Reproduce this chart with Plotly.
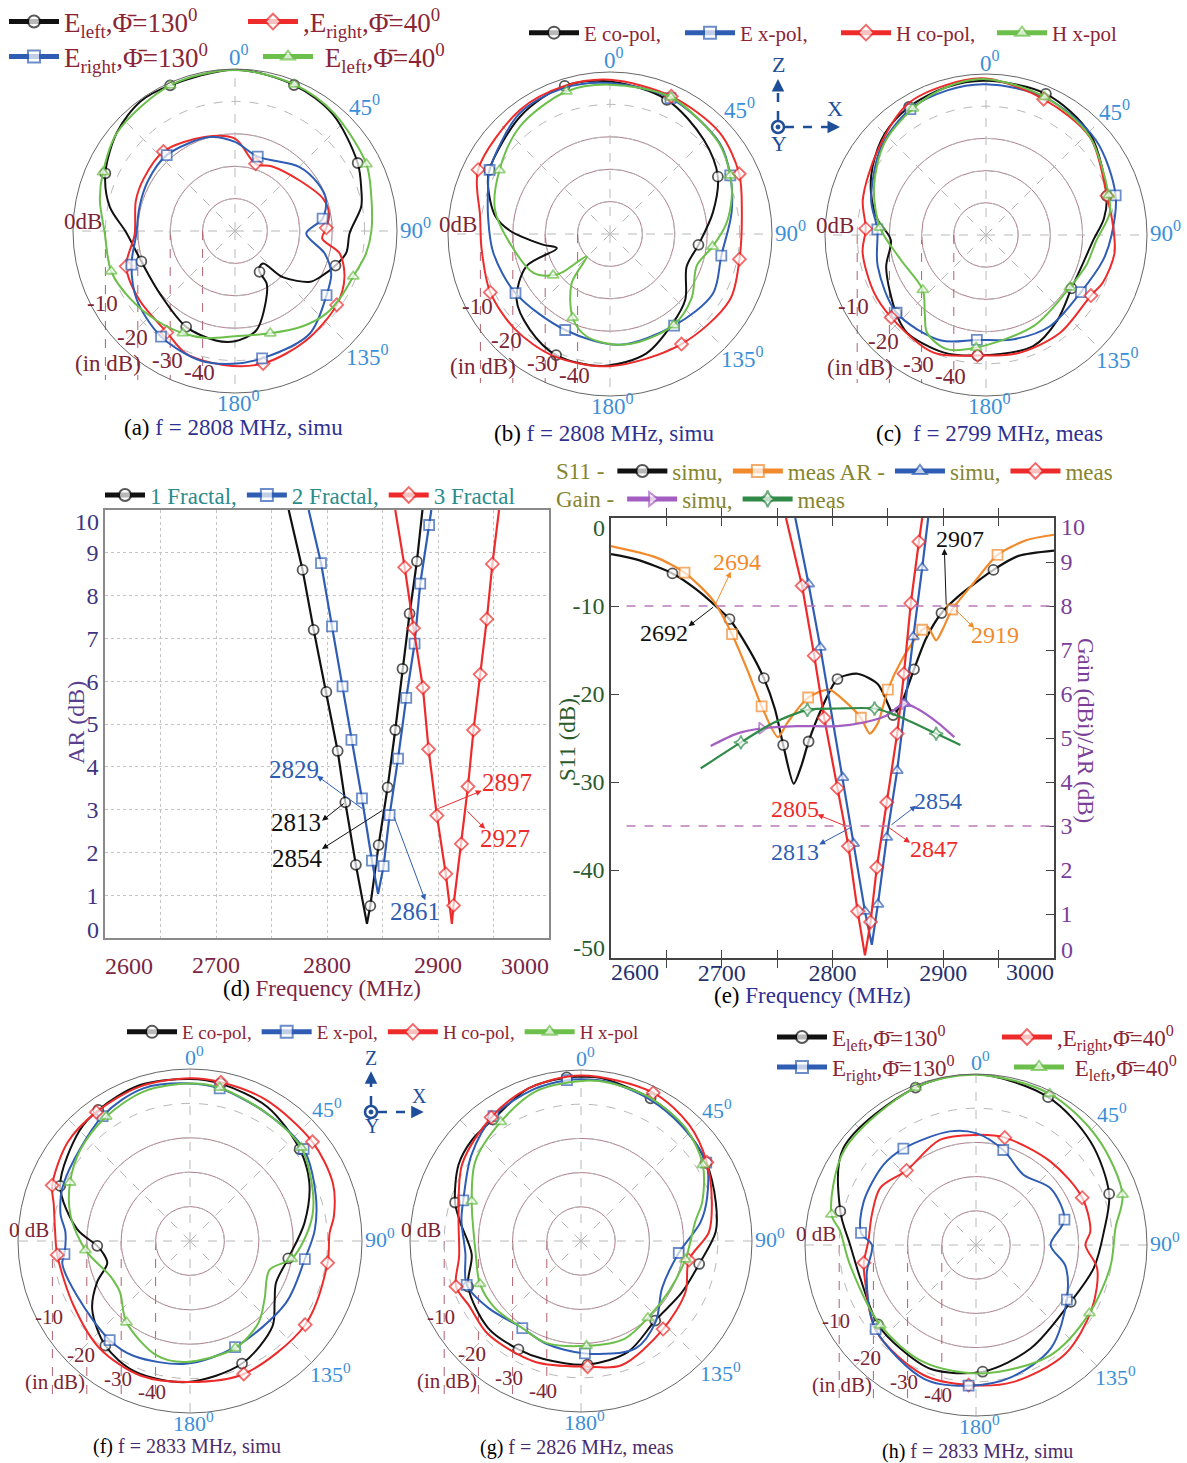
import plotly.graph_objects as go

W, H = 1187, 1463
FONT = "Liberation Serif"

C_BLACK = "#111111"
C_BLUE = "#2f5db4"
C_RED = "#ee2b2b"
C_GREEN = "#6cbf4a"
C_ORANGE = "#f28a2c"
C_PURPLE = "#a45ec2"
C_DGREEN = "#2f8a47"
C_MAROON = "#8b2535"
C_ANG = "#3b8fd8"
C_NAVY = "#2e3192"

# ======================= (a) f = 2808 MHz, simu =======================
a_black_th = [0, 22, 40, 61, 72, 79, 91, 101, 109, 118, 124, 134, 139, 146, 149, 149, 156, 168, 180, 190, 207, 230, 252, 269, 281, 294, 310, 324, 336, 360]
a_black_r = [-0.2, -1.4, -3, -6.7, -9, -10.3, -14.6, -15, -17.2, -20, -22, -29.5, -36.7, -36.5, -35.3, -31, -26.5, -18.6, -16, -15.7, -16.8, -19.8, -19.6, -16.5, -10.6, -6.2, -2.5, -0.5, -0.8, -0.2]
a_black_mk = [1, 3, 8, 14, 20, 22, 25, 28]
a_green_th = [0, 22, 40, 63, 75, 90, 100, 111, 122, 132, 145, 161, 180, 195, 207, 221, 237, 252, 269, 283, 294, 310, 336, 360]
a_green_r = [-0.3, -1.2, -2.5, -4.5, -6.5, -7.9, -9, -10.9, -11.5, -12, -14, -16.6, -17.5, -15.8, -14.6, -13.3, -11.5, -9.8, -9.8, -7.2, -5.4, -2.6, -0.8, -0.3]
a_green_mk = [1, 3, 7, 11, 14, 17, 20, 22]
a_blue_th = [0, 17, 45, 60, 71, 82, 92, 104, 114, 125, 144, 168, 181, 195, 215, 235, 252, 268, 284, 300, 318, 345, 360]
a_blue_r = [-22.5, -26, -22, -20.5, -20.3, -22.7, -28, -21.5, -17.5, -15.5, -10.8, -9.8, -9, -8.6, -10.2, -13, -16.4, -19.5, -19.6, -19, -18.5, -20, -22.5]
a_blue_mk = [1, 5, 9, 11, 14, 16, 20]
a_red_th = [0, 17, 30, 52, 70, 80, 88, 95, 102, 113, 126, 147, 168, 185, 202, 214, 234, 252, 268, 287, 300, 318, 342, 360]
a_red_r = [-21.5, -28.3, -27, -24.7, -21, -20.5, -21.8, -23, -17, -13.3, -11.2, -9.7, -8.2, -8.5, -9.3, -12.3, -13.6, -14.7, -19, -18, -17.5, -17, -19.5, -21.5]
a_red_mk = [1, 6, 10, 12, 15, 17, 21]

# ======================= (b) f = 2808 MHz, simu =======================
b_black_th = [0, 23, 45, 62, 78, 97, 113, 131, 145, 163, 183, 204, 220, 235, 249, 255, 261, 272, 279, 291, 298, 323, 343, 360]
b_black_r = [-2.9, -5, -9, -12.3, -17.5, -22.5, -24.3, -19.2, -16.3, -11.5, -9.2, -9.1, -11.5, -14.8, -22.4, -33, -29, -19, -14.1, -9.7, -7.8, -4.3, -2.2, -2.9]
b_black_mk = [1, 3, 5, 11, 20, 22]
b_blue_th = [0, 24, 50, 64, 80, 101, 120, 145, 175, 205, 238, 261, 278, 291, 298, 323, 342, 360]
b_blue_r = [-3.4, -4.1, -6, -8.7, -11.9, -15, -13.3, -15.5, -15.7, -17.3, -15.6, -13.5, -12, -9.7, -7.9, -3.5, -2.7, -3.4]
b_blue_mk = [1, 3, 5, 7, 9, 10, 14]
b_red_th = [0, 24, 47, 65, 81, 101, 119, 147, 180, 205, 225, 244, 263, 278, 296, 324, 343, 360]
b_red_r = [-2.4, -3.5, -3.9, -6, -8.8, -9.3, -7.8, -9.5, -9.2, -8.5, -8.5, -8.9, -10.1, -9.5, -4.7, -2.7, -2.2, -2.4]
b_red_mk = [1, 3, 5, 7, 11, 14]
b_green_th = [0, 24, 50, 64, 73, 85, 97, 110, 128, 145, 165, 177, 193, 204, 218, 226, 231, 234, 243, 263, 282, 300, 320, 343, 360]
b_green_r = [-3.9, -3.8, -6.2, -8.7, -10.7, -14, -18.1, -21.5, -18, -15.7, -15.5, -15.8, -17.6, -21.7, -30.8, -40, -31.6, -28.3, -23.5, -19.4, -13.7, -10.6, -6.7, -4, -3.9]
b_green_mk = [1, 3, 6, 9, 13, 17, 21, 23]

# ======================= (c) f = 2799 MHz, meas =======================
c_black_th = [0, 23, 46, 72, 82, 93, 106, 122, 140, 157, 184, 200, 219, 229, 252, 267, 278, 290, 301, 315, 329, 345, 360]
c_black_r = [-2.1, -2.4, -5, -10.6, -13, -16.7, -18.6, -18.7, -15.5, -12.5, -12.5, -11.2, -11, -13, -17.4, -20.4, -16, -12, -8.9, -5.5, -3.6, -2.5, -2.1]
c_black_mk = [1, 3, 7, 10, 13, 20]
c_blue_th = [0, 23, 49, 73, 90, 102, 121, 145, 165, 185, 203, 229, 254, 273, 287, 310, 329, 345, 360]
c_blue_r = [-3.2, -3.5, -4.9, -7.9, -11, -12.8, -15.6, -15.4, -16.5, -17.3, -14.4, -13.2, -15, -16.2, -12.7, -7.5, -4.4, -3.5, -3.2]
c_blue_mk = [3, 6, 9, 11, 13, 16]
c_red_th = [0, 23, 47, 72, 85, 98, 112, 120, 143, 165, 184, 204, 229, 243, 262, 273, 286, 308, 329, 345, 360]
c_red_r = [-1.4, -4.2, -5.7, -10.5, -10.5, -9.7, -10.8, -12.4, -11.9, -12, -12.5, -10, -11, -10.9, -11.3, -12.6, -10.2, -7.3, -2.6, -1.8, -1.4]
c_red_mk = [1, 3, 7, 10, 12, 15]
c_green_th = [0, 23, 46, 72, 80, 93, 107, 122, 152, 185, 199, 211, 218, 229, 254, 274, 293, 312, 330, 345, 360]
c_green_r = [-1.6, -3.4, -5.5, -9.9, -11, -15.7, -17.5, -19.3, -18.1, -14.9, -12.5, -14.5, -19.1, -24, -22.4, -17, -12.2, -7.5, -4.6, -2.5, -1.6]
c_green_mk = [1, 3, 7, 9, 13, 15, 18]

# ======================= (f) f = 2833 MHz, simu =======================
f_black_th = [0, 11, 30, 50, 64, 81, 100, 116, 126, 136, 157, 181, 203, 219, 235, 246, 255, 262, 267, 276, 293, 315, 325, 342, 360]
f_black_r = [-2.9, -3.4, -5, -8.4, -11.4, -16.3, -21, -22.2, -19.6, -15.5, -11.3, -9, -8.8, -10.9, -15.3, -20.4, -25.1, -24.5, -23, -17, -9, -4.6, -3.5, -2.4, -2.9]
f_black_mk = [1, 3, 6, 10, 13, 18, 20, 22]
f_blue_th = [0, 11, 31, 51, 70, 85, 99, 123, 157, 182, 206, 219, 244, 260, 264, 274, 282, 295, 325, 343, 360]
f_blue_r = [-4.2, -4.8, -6.7, -7.5, -11.1, -13.6, -16.2, -16.8, -16.5, -14.3, -12.8, -12.9, -13.5, -12.3, -13.3, -13.7, -11.5, -9.6, -5.7, -3.6, -4.2]
f_blue_mk = [1, 3, 6, 8, 11, 14, 18]
f_red_th = [0, 11, 28, 51, 68, 80, 87, 99, 126, 158, 180, 200, 220, 241, 264, 275, 285, 292, 309, 324, 342, 360]
f_red_r = [-2.7, -3, -3.4, -4.2, -5.2, -7.5, -9.4, -9.5, -8.6, -8.3, -9, -8.3, -9.2, -11.3, -11.2, -10.6, -9, -6.8, -4.3, -3.7, -2.8, -2.7]
f_red_mk = [1, 3, 7, 8, 9, 14, 17, 19]
f_green_th = [0, 11, 31, 50, 67, 78, 90, 100, 110, 128, 140, 157, 182, 196, 218, 234, 246, 265, 282, 296, 310, 326, 343, 360]
f_green_r = [-4.2, -4.6, -6.7, -7.8, -11.3, -13.6, -17, -20, -25.4, -22.5, -19, -16.2, -14.8, -15.3, -20, -24.8, -24.7, -19.5, -14.5, -11.2, -8.5, -6.4, -4.5, -4.2]
f_green_mk = [1, 3, 7, 11, 14, 17, 19, 21]

# ======================= (g) f = 2826 MHz, meas =======================
g_black_th = [0, 7, 26, 41, 58, 74, 86, 101, 117, 137, 157, 177, 198, 210, 227, 248, 263, 279, 287, 302, 313, 324, 341, 355, 360]
g_black_r = [-2, -2, -3.6, -5, -6.8, -9, -10.5, -14.8, -16.9, -18.2, -14.8, -13.8, -13.8, -13.4, -12.8, -14.4, -17.8, -14.2, -11.5, -7.8, -6.5, -6.1, -2.8, -2, -2]
g_black_mk = [2, 4, 7, 9, 11, 13, 15, 18, 21, 23]
g_blue_th = [0, 10, 26, 41, 58, 71, 81, 97, 120, 137, 153, 178, 199, 214, 234, 249, 264, 280, 289, 308, 325, 343, 355, 360]
g_blue_r = [-2.7, -2.8, -4, -5.3, -6.8, -11, -14.6, -21.2, -22.6, -17.9, -14.8, -17.1, -18.3, -19.3, -16.6, -14.2, -16, -14.5, -13.6, -9.3, -5.4, -3.5, -2.8, -2.7]
g_blue_mk = [4, 7, 11, 13, 15, 18, 20, 22]
g_red_th = [0, 26, 43, 58, 73, 86, 100, 116, 137, 162, 177, 201, 225, 240, 250, 263, 282, 303, 324, 341, 360]
g_red_r = [-1.6, -1.8, -3.6, -6.6, -10, -12.5, -18, -16, -14.8, -11.8, -13.2, -12.2, -11.5, -12.2, -11.1, -14.1, -13.4, -8.6, -5.3, -2.8, -1.6]
g_red_mk = [1, 3, 6, 8, 10, 14, 18]
g_green_th = [0, 10, 26, 43, 58, 72, 80, 100, 120, 139, 156, 177, 199, 214, 232, 247, 264, 290, 307, 326, 343, 360]
g_green_r = [-3.2, -3, -3.5, -5, -8, -12.7, -16, -19, -20.4, -20.2, -18.7, -19.3, -18.5, -19.3, -18.1, -17.9, -19, -16, -11.3, -8, -4.3, -3.2]
g_green_mk = [4, 7, 9, 11, 15, 17, 19]

# ======================= (h) f = 2833 MHz, simu =======================
h_black_th = [0, 26, 48, 69, 84, 101, 121, 152, 177, 200, 216, 231, 254, 270, 284, 306, 339, 360]
h_black_r = [0, -1.9, -4.9, -8.3, -12.4, -14.9, -17.7, -15.8, -12.9, -11.4, -12.5, -13.1, -14.8, -13.2, -9.1, -2, -0.7, 0]
h_black_mk = [1, 3, 6, 8, 11, 14, 16]
h_green_th = [0, 26, 49, 71, 83, 99, 121, 146, 177, 204, 230, 261, 276, 282, 306, 339, 360]
h_green_r = [-0.2, -0.8, -2.7, -4.7, -8.9, -10.2, -11.3, -11.1, -12.4, -12.5, -13.5, -12.7, -10, -6.8, -2.5, -0.7, -0.2]
h_green_mk = [1, 3, 6, 10, 13, 15]
h_blue_th = [0, 16, 34, 53, 74, 90, 103, 121, 144, 165, 183, 201, 230, 255, 270, 276, 291, 311, 323, 347, 360]
h_blue_r = [-17.3, -21.1, -25.2, -22.6, -23.1, -28.2, -23.2, -19, -12.7, -10, -8.8, -8, -11.7, -16.9, -19.6, -16.2, -14.8, -14.2, -14.7, -15.9, -17.3]
h_blue_mk = [1, 4, 7, 10, 12, 15, 18]
h_red_th = [0, 15, 42, 66, 83, 90, 101, 119, 141, 165, 183, 202, 229, 252, 261, 272, 286, 301, 317, 341, 360]
h_red_r = [-17.8, -17.5, -17.3, -16, -16.3, -18, -13.9, -11.3, -8.8, -8.5, -9, -9, -11.4, -15.9, -16.8, -18.5, -18.3, -17.4, -20.2, -17.5, -17.8]
h_red_mk = [1, 3, 10, 14, 18]

# ======================= (d) AR vs frequency =======================
d_f1 = [2765.5, 2778, 2788, 2799.4, 2809.6, 2816.5, 2826, 2836, 2839, 2846.5, 2854.6, 2861.5, 2868, 2874.4, 2881, 2886]
d_ar1 = [10, 8.6, 7.2, 5.75, 4.37, 3.17, 1.71, 0.33, 0.75, 2.17, 3.52, 4.86, 6.29, 7.58, 8.8, 10]
d_f2 = [2783.5, 2794.6, 2804.5, 2814, 2822, 2831.5, 2840.5, 2846, 2851, 2856.4, 2864, 2871.4, 2878.9, 2884, 2892, 2894]
d_ar2 = [10, 8.76, 7.28, 5.88, 4.63, 3.26, 1.81, 1.03, 1.68, 2.87, 4.19, 5.61, 6.88, 8.28, 9.65, 10]
d_f3 = [2861.5, 2870, 2878, 2886.4, 2891.5, 2899, 2907, 2912.5, 2914, 2921, 2927, 2932, 2938, 2944, 2949, 2955]
d_ar3 = [10, 8.66, 7.24, 5.85, 4.41, 2.86, 1.5, 0.33, 0.76, 2.2, 3.54, 4.86, 6.16, 7.45, 8.74, 10]
d_mk = [1, 2, 3, 4, 5, 6, 8, 9, 10, 11, 12, 13, 14]
d_freq_ticks = [2600, 2650, 2700, 2750, 2800, 2850, 2900, 2950, 3000]
d_freq_labels = ["", "", "2700", "", "2800", "", "2900", "", ""]
d_ar_ticks = [0, 1, 2, 3, 4, 5, 6, 7, 8, 9, 10]
d_ar_labels = ["", "1", "2", "3", "4", "5", "6", "7", "8", "9", ""]
d_labels = ["2829", "2813", "2854", "2861", "2897", "2927"]
d_label_col = ["blue", "black", "black", "blue", "red", "red"]
d_tail = [(2833, 3.0), (2816.5, 3.17), (2851, 3.0), (2860, 2.86), (2899, 3.01), (2925, 3.0)]
d_head = [(2791, 3.79), (2795.5, 2.74), (2795.5, 2.08), (2888.5, 0.88), (2939.4, 3.44), (2942.4, 2.55)]
d_text = [(2770, 3.94), (2772.4, 2.69), (2773, 1.86), (2879.5, 0.62), (2962, 3.63), (2960.4, 2.33)]

# ======================= (e) S11 / AR / Gain =======================
e_s11_sim_f = [2600, 2622.7, 2655.5, 2677, 2695.5, 2707, 2724.5, 2738, 2748, 2755.5, 2765, 2772, 2778.4, 2790, 2804.5, 2822.7, 2841, 2852, 2854.7, 2862.7, 2873.6, 2884.5, 2898.4, 2913.6, 2945.3, 2968, 3000]
e_s11_sim = [-4.1, -4.7, -6.3, -8.1, -10.1, -11.5, -14.9, -18.2, -21.7, -25.8, -30.2, -28.1, -25.4, -21.7, -18.3, -17.7, -18.9, -21.7, -22.4, -20.9, -17.2, -13.7, -10.8, -8.9, -5.9, -4.3, -3.7]
e_s11_sim_mk = [2, 5, 7, 9, 12, 14, 18, 20, 22, 24]
e_s11_meas_f = [2600, 2641, 2666.4, 2691.8, 2709.3, 2724.5, 2736, 2750.7, 2759, 2778, 2797, 2811.8, 2825.6, 2833.6, 2841, 2850, 2862.7, 2881, 2886, 2893.6, 2900, 2908, 2928, 2949, 2975.5, 3000]
e_s11_meas = [-3.2, -4.5, -6.2, -9.3, -13.2, -17.7, -21.4, -24.9, -23.3, -20.4, -19.5, -20.9, -22.7, -24.5, -23.3, -19.5, -16.1, -12.7, -12.4, -13.9, -12.5, -10.4, -7.3, -4.2, -2.5, -1.9]
e_s11_meas_mk = [2, 4, 6, 9, 12, 15, 17, 21, 23]
e_ar_sim_f = [2766.4, 2778.4, 2789, 2799, 2809.3, 2819, 2829.3, 2835.5, 2841, 2849, 2858.4, 2865.6, 2873, 2881, 2886.4]
e_ar_sim = [10, 8.5, 7.06, 5.6, 4.1, 2.6, 1.06, 0.3, 1.22, 2.74, 4.26, 5.78, 7.3, 8.87, 10]
e_ar_sim_mk = [1, 2, 4, 5, 6, 8, 9, 10, 11, 12, 13]
e_ar_meas_f = [2758, 2772.5, 2783.5, 2792.5, 2804.5, 2814.4, 2822.7, 2829.3, 2834.4, 2840, 2849, 2858.4, 2864.5, 2870.7, 2878, 2881]
e_ar_meas = [10, 8.46, 6.87, 5.46, 3.86, 2.54, 1.06, 0.06, 0.82, 2.06, 3.54, 5.1, 6.46, 8.06, 9.46, 10]
e_ar_meas_mk = [1, 2, 3, 4, 5, 6, 8, 9, 10, 11, 12, 13, 14]
e_gain_sim_f = [2690, 2713.6, 2736, 2768, 2804.5, 2826, 2848, 2864.5, 2877, 2895.5, 2910]
e_gain_sim = [4.82, 5.1, 5.22, 5.27, 5.27, 5.34, 5.5, 5.78, 5.66, 5.34, 5.02]
e_gain_sim_mk = [2, 7]
e_gain_meas_f = [2681, 2717.3, 2746.4, 2777.3, 2804.5, 2838, 2859, 2893.6, 2915.5]
e_gain_meas = [4.31, 4.9, 5.34, 5.64, 5.67, 5.67, 5.5, 5.1, 4.84]
e_gain_meas_mk = [1, 3, 5, 7]
e_s11_limit = -10
e_ar_limit = 3
e_limit_start = 2614
e_freq_ticks = [2600, 2650, 2700, 2750, 2800, 2850, 2900, 2950, 3000]
e_freq_labels = ["", "", "2700", "", "2800", "", "2900", "", ""]
e_s11_ticks = [-50, -40, -30, -20, -10, 0]
e_s11_labels = ["", "-40", "-30", "-20", "-10", ""]
e_right_ticks = [0, 1, 2, 3, 4, 5, 6, 7, 8, 9, 10]
e_right_labels = ["", "1", "2", "3", "4", "5", "6", "7", "8", "9", ""]
e_labels = ["2694", "2692", "2907", "2919", "2805", "2813", "2854", "2847"]
e_label_col = ["orange", "black", "black", "orange", "red", "blue", "blue", "red"]
e_tail = [(2693.6, -10), (2693.6, -10), (2902.7, -10), (2910, -10.3), (2811.8, -35), (2819, -35), (2851.8, -35), (2849, -35)]
e_head = [(2708.2, -6.1), (2670, -12.3), (2901, -3.5), (2928, -12.5), (2786.4, -33.7), (2788, -37.1), (2875.5, -32.7), (2870, -36.9)]
e_text = [(2713.6, -5.0), (2647.5, -13.1), (2915.5, -2.4), (2946.4, -13.3), (2766.4, -33.1), (2766.4, -37.9), (2895.5, -32.2), (2891.8, -37.6)]

# ----------------------------------------------------------------------
COL = {"black": C_BLACK, "blue": C_BLUE, "red": C_RED, "green": C_GREEN, "orange": C_ORANGE}


def px(x):
    return x / W


def py(y):
    return 1 - y / H


def ptext(x, y, text, size, color, angle=0, xanchor="center"):
    return dict(text=text, x=px(x), y=py(y), xref="paper", yref="paper", xanchor=xanchor,
                yanchor="middle", showarrow=False, textangle=angle,
                font=dict(family=FONT, size=size, color=color))


fig = go.Figure()


def sizes(n, mk, s=10):
    return [s if i in mk else 0 for i in range(n)]


def polar_curve(sub, th, r, mk, color, symbol, name, legend, show=True):
    fig.add_trace(go.Scatterpolar(
        theta=th, r=r, mode="lines+markers", name=name, subplot=sub,
        legend=legend, showlegend=show, hoverinfo="skip",
        line=dict(color=color, width=2, shape="spline", smoothing=0.9),
        marker=dict(symbol=symbol, color="white", size=sizes(len(th), mk),
                    line=dict(color=color, width=1.8))))


EL130 = "E<sub>left</sub>,Φ̄=130<sup>0</sup>"
ER40 = ",E<sub>right</sub>,Φ̄=40<sup>0</sup>"
ER130 = "E<sub>right</sub>,Φ̄=130<sup>0</sup>"
EL40 = " E<sub>left</sub>,Φ̄=40<sup>0</sup>"

polar_curve("polar", a_black_th, a_black_r, a_black_mk, C_BLACK, "circle", EL130, "legend")
polar_curve("polar", a_red_th, a_red_r, a_red_mk, C_RED, "diamond", ER40, "legend")
polar_curve("polar", a_blue_th, a_blue_r, a_blue_mk, C_BLUE, "square", ER130, "legend2")
polar_curve("polar", a_green_th, a_green_r, a_green_mk, C_GREEN, "triangle-up", EL40, "legend2")
polar_curve("polar2", b_black_th, b_black_r, b_black_mk, C_BLACK, "circle", "E co-pol,", "legend3")
polar_curve("polar2", b_blue_th, b_blue_r, b_blue_mk, C_BLUE, "square", "E x-pol,", "legend3")
polar_curve("polar2", b_red_th, b_red_r, b_red_mk, C_RED, "diamond", "H co-pol,", "legend3")
polar_curve("polar2", b_green_th, b_green_r, b_green_mk, C_GREEN, "triangle-up", "H x-pol", "legend3")
polar_curve("polar3", c_black_th, c_black_r, c_black_mk, C_BLACK, "circle", "E co-pol", "legend3", False)
polar_curve("polar3", c_blue_th, c_blue_r, c_blue_mk, C_BLUE, "square", "E x-pol", "legend3", False)
polar_curve("polar3", c_red_th, c_red_r, c_red_mk, C_RED, "diamond", "H co-pol", "legend3", False)
polar_curve("polar3", c_green_th, c_green_r, c_green_mk, C_GREEN, "triangle-up", "H x-pol", "legend3", False)
polar_curve("polar4", f_black_th, f_black_r, f_black_mk, C_BLACK, "circle", "E co-pol,", "legend7")
polar_curve("polar4", f_blue_th, f_blue_r, f_blue_mk, C_BLUE, "square", "E x-pol,", "legend7")
polar_curve("polar4", f_red_th, f_red_r, f_red_mk, C_RED, "diamond", "H co-pol,", "legend7")
polar_curve("polar4", f_green_th, f_green_r, f_green_mk, C_GREEN, "triangle-up", "H x-pol", "legend7")
polar_curve("polar5", g_black_th, g_black_r, g_black_mk, C_BLACK, "circle", "E co-pol", "legend7", False)
polar_curve("polar5", g_blue_th, g_blue_r, g_blue_mk, C_BLUE, "square", "E x-pol", "legend7", False)
polar_curve("polar5", g_red_th, g_red_r, g_red_mk, C_RED, "diamond", "H co-pol", "legend7", False)
polar_curve("polar5", g_green_th, g_green_r, g_green_mk, C_GREEN, "triangle-up", "H x-pol", "legend7", False)
polar_curve("polar6", h_black_th, h_black_r, h_black_mk, C_BLACK, "circle", EL130, "legend8")
polar_curve("polar6", h_red_th, h_red_r, h_red_mk, C_RED, "diamond", ER40, "legend8")
polar_curve("polar6", h_blue_th, h_blue_r, h_blue_mk, C_BLUE, "square", ER130, "legend9")
polar_curve("polar6", h_green_th, h_green_r, h_green_mk, C_GREEN, "triangle-up", EL40, "legend9")


def xy_curve(x, y, mk, color, symbol, name, legend, xa, ya, shape="spline", show=True):
    fig.add_trace(go.Scatter(
        x=x, y=y, mode="lines+markers", name=name, xaxis=xa, yaxis=ya,
        legend=legend, showlegend=show, hoverinfo="skip",
        line=dict(color=color, width=2.2, shape=shape, smoothing=0.7),
        marker=dict(symbol=symbol, color="white", size=sizes(len(x), mk),
                    line=dict(color=color, width=1.8))))


xy_curve(d_f1, d_ar1, d_mk, C_BLACK, "circle", "1 Fractal,", "legend4", "x", "y", "linear")
xy_curve(d_f2, d_ar2, d_mk, C_BLUE, "square", "2 Fractal,", "legend4", "x", "y", "linear")
xy_curve(d_f3, d_ar3, d_mk, C_RED, "diamond", "3 Fractal", "legend4", "x", "y", "linear")
xy_curve(e_s11_sim_f, e_s11_sim, e_s11_sim_mk, C_BLACK, "circle", "simu,", "legend5", "x2", "y2")
xy_curve(e_s11_meas_f, e_s11_meas, e_s11_meas_mk, C_ORANGE, "square", "meas AR -", "legend5", "x2", "y2")
xy_curve(e_ar_sim_f, e_ar_sim, e_ar_sim_mk, C_BLUE, "triangle-up", "simu,", "legend5", "x2", "y3", "linear")
xy_curve(e_ar_meas_f, e_ar_meas, e_ar_meas_mk, C_RED, "diamond", "meas", "legend5", "x2", "y3", "linear")
xy_curve(e_gain_sim_f, e_gain_sim, e_gain_sim_mk, C_PURPLE, "triangle-right", "simu,", "legend6", "x2", "y3")
xy_curve(e_gain_meas_f, e_gain_meas, e_gain_meas_mk, C_DGREEN, "star-diamond", "meas", "legend6", "x2", "y3")

# ---------------- polar layouts ----------------
POLARS = [("polar", 235, 231, 162), ("polar2", 610, 234, 162), ("polar3", 986, 235, 161),
          ("polar4", 190, 1241, 172), ("polar5", 581, 1241, 171), ("polar6", 976, 1245, 171)]
ANG_VALS = [0, 45, 90, 135, 180, 225, 270, 315]
ANG_LABELS = ["0<sup>0</sup>", "45<sup>0</sup>", "90<sup>0</sup>", "135<sup>0</sup>", "180<sup>0</sup>"]
RING_VALS = [-40, -30, -20, -10]

layout = {}
shapes = []
annots = []
for i, (name, cx, cy, R) in enumerate(POLARS):
    big = i < 3
    layout[name] = dict(
        domain=dict(x=[px(cx - R), px(cx + R)], y=[py(cy + R), py(cy - R)]),
        bgcolor="rgba(0,0,0,0)",
        radialaxis=dict(range=[-50, 0], tickvals=RING_VALS, showticklabels=False, ticks="",
                        showline=False, gridcolor="#b8b8b8", griddash="dash", gridwidth=1),
        angularaxis=dict(rotation=90, direction="clockwise", tickvals=ANG_VALS, showticklabels=False,
                         ticks="", gridcolor="#b8b8b8", griddash="dash", showline=True,
                         linecolor="#666666", linewidth=1))
    for k in (0.2, 0.4, 0.6):
        shapes.append(dict(type="circle", xref="paper", yref="paper", layer="below",
                           x0=px(cx - k * R), x1=px(cx + k * R), y0=py(cy + k * R), y1=py(cy - k * R),
                           line=dict(color="#b07d88", width=1)))
    for k in (0.8, 0.6, 0.4, 0.2):
        shapes.append(dict(type="line", xref="paper", yref="paper", layer="below",
                           x0=px(cx - k * R), x1=px(cx - k * R), y0=py(cy), y1=py(cy + 0.92 * R),
                           line=dict(color="#b0606e", width=1, dash="dash")))
    s = R / 162.0
    lab0 = "0dB" if big else "0 dB"
    for txt, dx, dy in [(lab0, -152, -10), ("-10", -133, 72), ("-20", -103, 107),
                        ("(in dB)", -127, 133), ("-30", -68, 130), ("-40", -36, 142)]:
        annots.append(ptext(cx + dx * s, cy + dy * s, txt, 23 if big else 21, "#7b2535"))
    afs = 23 if big else 22
    pos = [(4, -R - 13), (129 * s, -125 * s), (R + 18, -3), (132 * s, 124 * s), (3, R + 9)]
    for lab, (dx, dy) in zip(ANG_LABELS, pos):
        annots.append(ptext(cx + dx, cy + dy, lab, afs, C_ANG))

caps = [("(a)", "f = 2808 MHz, simu", 233, 427, 23, C_NAVY),
        ("(b)", "f = 2808 MHz, simu", 604, 433, 23, C_NAVY),
        ("(c)", " f = 2799 MHz, meas", 990, 433, 23, C_NAVY),
        ("(d)", "Frequency (MHz)", 322, 988, 23, "#7b2543"),
        ("(e)", "Frequency (MHz)", 812, 996, 23, C_NAVY),
        ("(f)", "f = 2833 MHz, simu", 187, 1446, 20, "#4b2a6b"),
        ("(g)", "f = 2826 MHz, meas", 577, 1447, 20, "#4b2a6b"),
        ("(h)", "f = 2833 MHz, simu", 977, 1451, 20, "#4b2a6b")]
for tag, txt, x, y, sz, col in caps:
    annots.append(ptext(x, y, "<span style='color:#000000'>%s</span> %s" % (tag, txt), sz, col))

annots.append(ptext(76, 722, "AR (dB)", 24, "#5b3f8f", angle=-90))
annots.append(ptext(567, 740, "S11 (dB)", 23, "#2d5a2d", angle=-90))
annots.append(ptext(1086, 730, "Gain (dBi)/AR (dB)", 23, "#7b3f98", angle=90))

annots.append(ptext(129, 966, "2600", 24, "#7b2543"))
annots.append(ptext(525, 966, "3000", 24, "#7b2543"))
annots.append(ptext(101, 522, "10", 24, "#3d3580", xanchor="right"))
annots.append(ptext(101, 930, "0", 24, "#3d3580", xanchor="right"))
annots.append(ptext(635, 972, "2600", 24, "#27306b"))
annots.append(ptext(1030, 972, "3000", 24, "#27306b"))
annots.append(ptext(607, 528, "0", 24, "#2d5a2d", xanchor="right"))
annots.append(ptext(607, 948, "-50", 24, "#2d5a2d", xanchor="right"))
annots.append(ptext(1059, 527, "10", 24, "#7b3f98", xanchor="left"))
annots.append(ptext(1059, 950, "0", 24, "#7b3f98", xanchor="left"))

for lab, ck, t, hd, tx in zip(d_labels, d_label_col, d_tail, d_head, d_text):
    annots.append(dict(x=hd[0], y=hd[1], ax=t[0], ay=t[1], xref="x", yref="y", axref="x", ayref="y",
                       text="", showarrow=True, arrowhead=2, arrowsize=1.2, arrowwidth=1,
                       arrowcolor=COL[ck]))
    annots.append(dict(x=tx[0], y=tx[1], xref="x", yref="y", text=lab, showarrow=False,
                       xanchor="center", yanchor="middle",
                       font=dict(family=FONT, size=25, color=COL[ck])))
for lab, ck, t, hd, tx in zip(e_labels, e_label_col, e_tail, e_head, e_text):
    annots.append(dict(x=hd[0], y=hd[1], ax=t[0], ay=t[1], xref="x2", yref="y2", axref="x2", ayref="y2",
                       text="", showarrow=True, arrowhead=2, arrowsize=1.2, arrowwidth=1,
                       arrowcolor=COL[ck]))
    annots.append(dict(x=tx[0], y=tx[1], xref="x2", yref="y2", text=lab, showarrow=False,
                       xanchor="center", yanchor="middle",
                       font=dict(family=FONT, size=24, color=COL[ck])))

shapes.append(dict(type="line", xref="x2", yref="y2", x0=e_limit_start, x1=3000, y0=e_s11_limit,
                   y1=e_s11_limit, line=dict(color="#b97ab9", width=1.3, dash="dash")))
shapes.append(dict(type="line", xref="x2", yref="y3", x0=e_limit_start, x1=3000, y0=e_ar_limit,
                   y1=e_ar_limit, line=dict(color="#b97ab9", width=1.3, dash="dash")))

AX_BLUE = "#1f4e99"
for ox, oy, sc, fs in [(778, 127, 1.0, 22), (371, 1112, 0.85, 20)]:
    shapes.append(dict(type="line", xref="paper", yref="paper", x0=px(ox), x1=px(ox), y0=py(oy - 7),
                       y1=py(oy - 40 * sc), line=dict(color=AX_BLUE, width=2.5, dash="dash")))
    shapes.append(dict(type="line", xref="paper", yref="paper", x0=px(ox + 7), x1=px(ox + 52 * sc),
                       y0=py(oy), y1=py(oy), line=dict(color=AX_BLUE, width=2.5, dash="dash")))
    shapes.append(dict(type="circle", xref="paper", yref="paper", x0=px(ox - 6), x1=px(ox + 6),
                       y0=py(oy + 6), y1=py(oy - 6), line=dict(color=AX_BLUE, width=2.5)))
    shapes.append(dict(type="circle", xref="paper", yref="paper", x0=px(ox - 2), x1=px(ox + 2),
                       y0=py(oy + 2), y1=py(oy - 2), fillcolor=AX_BLUE, line=dict(color=AX_BLUE, width=1)))
    annots.append(dict(x=px(ox), y=py(oy - 48 * sc), ax=0, ay=10, xref="paper", yref="paper", text="",
                       showarrow=True, arrowhead=2, arrowsize=1, arrowwidth=2.5, arrowcolor=AX_BLUE))
    annots.append(dict(x=px(ox + 62 * sc), y=py(oy), ax=-10, ay=0, xref="paper", yref="paper", text="",
                       showarrow=True, arrowhead=2, arrowsize=1, arrowwidth=2.5, arrowcolor=AX_BLUE))
    annots.append(ptext(ox, oy - 63 * sc, "Z", fs, AX_BLUE))
    annots.append(ptext(ox + 57 * sc, oy - 19 * sc, "X", fs, AX_BLUE))
    annots.append(ptext(ox + 1, oy + 17 * sc, "Y", fs, AX_BLUE))


def leg(x, y, size, color, entry=None, title=None, iw=40):
    d = dict(x=px(x), y=py(y), xanchor="left", yanchor="middle", orientation="h",
             bgcolor="rgba(0,0,0,0)", itemsizing="constant", itemwidth=iw,
             font=dict(family=FONT, size=size, color=color), tracegroupgap=0)
    if entry:
        d["entrywidth"] = entry
        d["entrywidthmode"] = "pixels"
    if title:
        d["title"] = dict(text=title, side="left", font=dict(family=FONT, size=size, color=color))
    return d


layout.update(
    legend=leg(4, 22, 27, C_MAROON, entry=174, iw=50),
    legend2=leg(4, 57, 27, C_MAROON, entry=189, iw=50),
    legend3=leg(524, 33, 21, C_MAROON, entry=91, iw=50),
    legend4=leg(100, 495, 23, "#2b8c8c"),
    legend5=leg(554, 471, 23, "#85852e", title="S11 -", iw=50),
    legend6=leg(554, 499, 23, "#85852e", title="Gain -", iw=50),
    legend7=leg(122, 1032, 19, C_MAROON, iw=50),
    legend8=leg(772, 1037, 23, C_MAROON, entry=160, iw=50),
    legend9=leg(772, 1067, 23, C_MAROON, entry=172, iw=50),
)

layout["xaxis"] = dict(domain=[px(105), px(549)], anchor="y", range=[2600, 3000], tickvals=d_freq_ticks,
                       ticktext=d_freq_labels, showgrid=True, gridcolor="#c4c4c4", griddash="dot",
                       showline=True, mirror=True, linecolor="#8a8a8a", linewidth=1.5, ticks="",
                       zeroline=False, ticklabelstandoff=4,
                       tickfont=dict(family=FONT, size=24, color="#7b2543"))
layout["yaxis"] = dict(domain=[py(938), py(510)], anchor="x", range=[0, 10], tickvals=d_ar_ticks,
                       ticktext=d_ar_labels, showgrid=True, gridcolor="#c4c4c4", griddash="dot",
                       showline=True, mirror=True, linecolor="#8a8a8a", linewidth=1.5, ticks="",
                       zeroline=False, tickfont=dict(family=FONT, size=24, color="#3d3580"))
layout["xaxis2"] = dict(domain=[px(611), px(1054)], anchor="y2", range=[2600, 3000], tickvals=e_freq_ticks,
                        ticktext=e_freq_labels, showgrid=False, showline=True, mirror="allticks",
                        linecolor="#444444", linewidth=1.5, ticks="inside", ticklen=8, tickcolor="#444444",
                        zeroline=False, ticklabelstandoff=-8,
                        tickfont=dict(family=FONT, size=24, color="#27306b"))
layout["yaxis2"] = dict(domain=[py(958), py(518)], anchor="x2", range=[-50, 0], tickvals=e_s11_ticks,
                        ticktext=e_s11_labels, showgrid=False, showline=True, linecolor="#444444",
                        linewidth=1.5, ticks="inside", ticklen=8, tickcolor="#444444", zeroline=False,
                        tickfont=dict(family=FONT, size=24, color="#2d5a2d"))
layout["yaxis3"] = dict(overlaying="y2", anchor="x2", side="right", range=[0, 10], tickvals=e_right_ticks,
                        ticktext=e_right_labels, showgrid=False, showline=True, linecolor="#444444",
                        linewidth=1.5, ticks="inside", ticklen=8, tickcolor="#444444", zeroline=False,
                        tickfont=dict(family=FONT, size=24, color="#7b3f98"))

fig.update_layout(**layout)
fig.update_layout(width=W, height=H, margin=dict(l=0, r=0, t=0, b=0, autoexpand=False), template="none",
                  paper_bgcolor="white", plot_bgcolor="rgba(0,0,0,0)", shapes=shapes,
                  annotations=annots, font=dict(family=FONT))
fig.write_html("out.html", config={"displayModeBar": False},
               post_script="document.body.style.margin='0px';")
